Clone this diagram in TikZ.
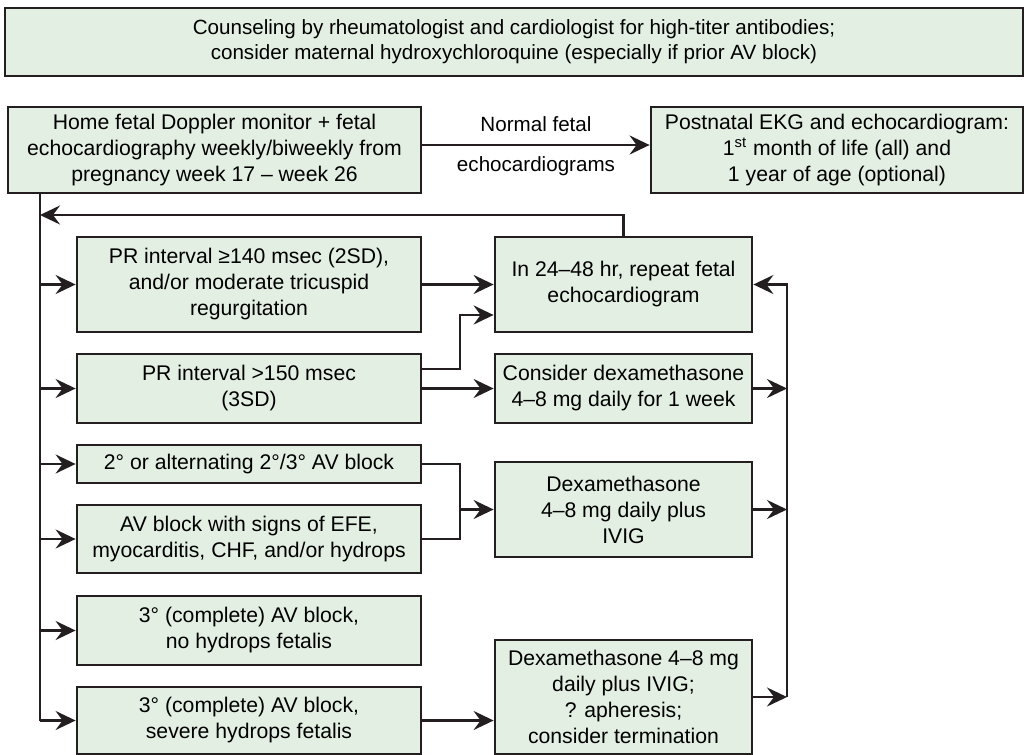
\documentclass[tikz,border=0pt]{standalone}
\usepackage{fontspec}
\setmainfont{Liberation Sans}
\usetikzlibrary{arrows.meta}
\definecolor{boxgreen}{RGB}{228,239,227}
\definecolor{inkdark}{RGB}{35,31,32}

\begin{document}
\begin{tikzpicture}[
    x=0.5pt, y=-0.5pt,
    box/.style={rectangle, draw=inkdark, line width=1.4pt, fill=boxgreen, align=center, inner sep=0pt, font=\fontsize{10.6}{13}\selectfont},
    leftbox/.style={box, minimum width=172pt},
    rightbox/.style={box, minimum width=128.5pt},
    line/.style={draw=inkdark, line width=1.2pt},
    arr/.style={line, -{Stealth[length=10pt, width=9.5pt, inset=3.5pt]}},
    lbl/.style={font=\fontsize{10.3}{13}\selectfont, inner sep=0pt}
  ]
    \useasboundingbox (0,0) rectangle (1029,755);
    \node[box, minimum width=509pt, minimum height=34pt, font=\fontsize{10.3}{12.5}\selectfont] (counsel) at (514,42) {Counseling by rheumatologist and cardiologist for high-titer antibodies;\\ consider maternal hydroxychloroquine (especially if prior AV block)};
    \node[box, minimum width=206.5pt, minimum height=43pt] (home) at (214.5,150) {Home fetal Doppler monitor + fetal\\ echocardiography weekly/biweekly from\\ pregnancy week 17 -- week 26};
    \node[box, minimum width=186pt, minimum height=43pt] (post) at (837,150) {Postnatal EKG and echocardiogram:\\ 1\textsuperscript{st} month of life (all) and\\ 1 year of age (optional)};

    \node[leftbox, minimum height=47.5pt] (b1) at (249,284.5) {PR interval ≥140 msec (2SD),\\ and/or moderate tricuspid\\ regurgitation};
    \node[leftbox, minimum height=34.5pt] (b2) at (249,388.5) {PR interval >150 msec\\ (3SD)};
    \node[leftbox, minimum height=19pt] (b3) at (249,464) {2° or alternating 2°/3° AV block};
    \node[leftbox, minimum height=34pt] (b4) at (249,539) {AV block with signs of EFE,\\ myocarditis, CHF, and/or hydrops};
    \node[leftbox, minimum height=34.5pt] (b5) at (249,630.5) {3° (complete) AV block,\\ no hydrops fetalis};
    \node[leftbox, minimum height=33.5pt] (b6) at (249,720.5) {3° (complete) AV block,\\ severe hydrops fetalis};

    \node[rightbox, minimum height=47.5pt] (r1) at (623.5,284.5) {In 24--48 hr, repeat fetal\\ echocardiogram};
    \node[rightbox, minimum height=34.5pt] (r2) at (623.5,388.5) {Consider dexamethasone\\ 4--8 mg daily for 1 week};
    \node[rightbox, minimum height=47.5pt] (r3) at (623.5,509.5) {Dexamethasone\\ 4--8 mg daily plus\\ IVIG};
    \node[rightbox, minimum height=57pt] (r4) at (623.5,697) {Dexamethasone 4--8 mg\\ daily plus IVIG;\\ ? apheresis;\\ consider termination};

    \draw[arr] ([yshift=2.5pt]home.east) -- ([yshift=2.5pt]post.west)
      node[lbl, midway, above=6pt] {Normal fetal}
      node[lbl, midway, below=5pt] {echocardiograms};

    \coordinate (trunk) at (40,721);
    \coordinate (fb) at (40,215);
    \draw[line] (home.south -| trunk) -- (trunk);
    \draw[arr] (r1.north) |- (fb);
    \draw[arr] (b1.west -| trunk) -- (b1.west);
    \draw[arr] (b2.west -| trunk) -- (b2.west);
    \draw[arr] (b3.west -| trunk) -- (b3.west);
    \draw[arr] (b4.west -| trunk) -- (b4.west);
    \draw[arr] (b5.west -| trunk) -- (b5.west);
    \draw[arr] (b6.west -| trunk) -- (b6.west);

    \draw[arr] (b1) -- (r1);
    \draw[arr] (b2) -- (r2);
    \coordinate (k1) at (460,369);
    \coordinate (k2) at (460,315);
    \draw[arr] (b2.east |- k1) -- (k1) -- (k2) -- (k2 -| r1.west);
    \coordinate (k3) at (460,509.5);
    \draw[line] (b3.east) -| (k3);
    \draw[line] (b4.east) -| (k3);
    \draw[arr] (k3) -- (r3.west);
    \draw[arr] (b6.east) -- (b6.east -| r4.west);

    \coordinate (rtrunk) at (787,697);
    \draw[arr] (r2.east) -- (r2.east -| rtrunk);
    \draw[arr] (r3.east) -- (r3.east -| rtrunk);
    \draw[arr] (r4.east) -- (rtrunk);
    \draw[arr] (rtrunk) |- (r1.east);
  \end{tikzpicture}
\end{document}
